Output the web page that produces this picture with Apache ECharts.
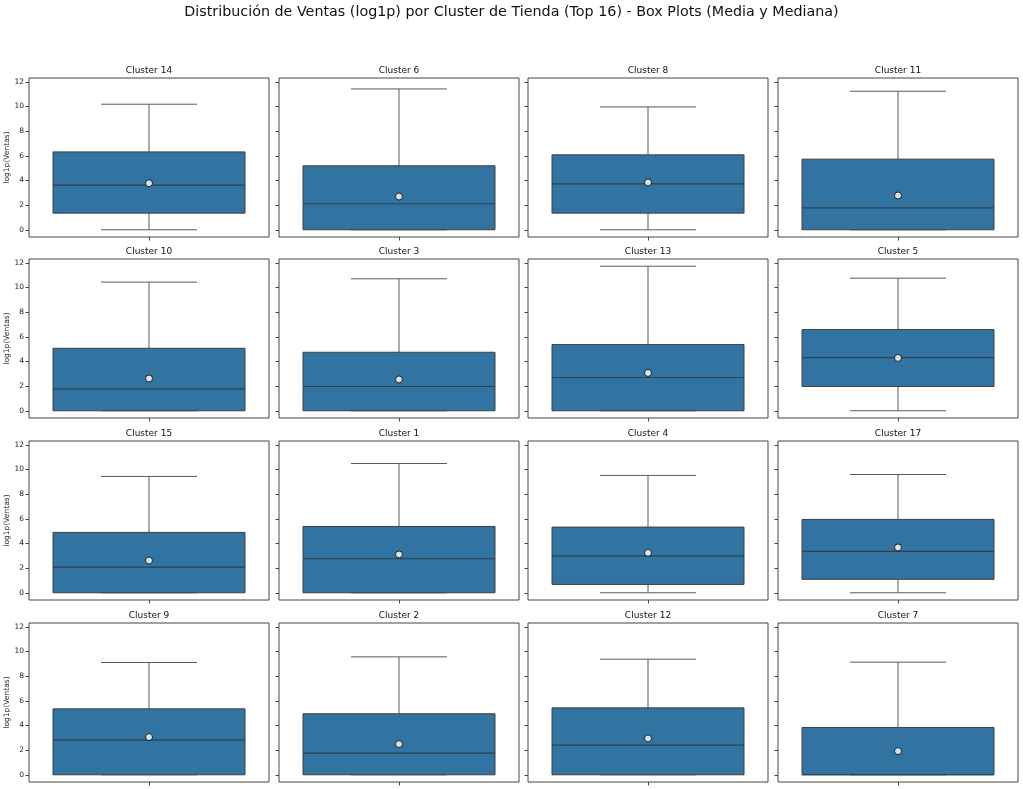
<!DOCTYPE html>
<html>
<head>
<meta charset="utf-8">
<script src="https://cdn.jsdelivr.net/npm/echarts@6/dist/echarts.min.js"></script>
<style>
html,body{margin:0;padding:0;background:#fff;}
#c{width:1023px;height:789px;}
</style>
</head>
<body>
<div id="c"></div>
<script>
// ---- data ----
const clusters = ['Cluster 14','Cluster 6','Cluster 8','Cluster 11',
                  'Cluster 10','Cluster 3','Cluster 13','Cluster 5',
                  'Cluster 15','Cluster 1','Cluster 4','Cluster 17',
                  'Cluster 9','Cluster 2','Cluster 12','Cluster 7'];
const whiskerLow  = [0,0,0,0, 0,0,0,0, 0,0,0,0, 0,0,0,0];
const q1Values    = [1.35,0,1.35,0, 0,0,0,1.97, 0,0,0.68,1.09, 0,0,0,0];
const medianValues= [3.62,2.11,3.73,1.78, 1.78,1.97,2.70,4.32, 2.08,2.76,3.00,3.36, 2.81,1.76,2.41,0];
const q3Values    = [6.32,5.19,6.08,5.73, 5.07,4.75,5.37,6.59, 4.90,5.38,5.33,5.95, 5.35,4.95,5.43,3.84];
const whiskerHigh = [10.19,11.43,9.97,11.24, 10.44,10.71,11.73,10.76, 9.44,10.49,9.52,9.60, 9.11,9.57,9.38,9.14];
const meanValues  = [3.78,2.70,3.84,2.78, 2.62,2.54,3.07,4.29, 2.62,3.11,3.24,3.68, 3.06,2.49,2.95,1.92];
const yTicks = [0,2,4,6,8,10,12];
const mainTitle = 'Distribución de Ventas (log1p) por Cluster de Tienda (Top 16) - Box Plots (Media y Mediana)';
const yName = 'log1p(Ventas)';

// ---- layout ----
const FONT = 'DejaVu Sans';
const colLeft = [29, 279, 528, 778];
const rowTop = [78, 259, 441, 623];
const W = 240, H = 159;
const dataMax = Math.max(...whiskerHigh), dataMin = Math.min(...whiskerLow);
const pad = (dataMax - dataMin) * 0.05;
const yMin = dataMin - pad, yMax = dataMax + pad;

const grids = [], xAxes = [], yAxes = [], series = [], graphics = [];
graphics.push({type:'text', left:'center', top:5, style:{text:mainTitle, font:'14.3px "'+FONT+'"', fill:'#111'}});

clusters.forEach((name, i) => {
  const r = Math.floor(i/4), c = i % 4;
  grids.push({left:colLeft[c], top:rowTop[r], width:W, height:H, show:true, borderColor:'#444', borderWidth:1, backgroundColor:'transparent', containLabel:false});
  xAxes.push({gridIndex:i, type:'value', min:-0.5, max:0.5, position:'bottom',
    axisLine:{show:false, onZero:false}, splitLine:{show:false},
    axisTick:{show:true, length:3.5, lineStyle:{color:'#444', width:1}, customValues:[0]},
    axisLabel:{show:false}});
  yAxes.push({gridIndex:i, type:'value', min:yMin, max:yMax, position:'left',
    axisLine:{show:false, onZero:false}, splitLine:{show:false},
    axisTick:{show:true, length:3.5, lineStyle:{color:'#444', width:1}, customValues:yTicks},
    axisLabel:{show:c===0, customValues:yTicks, fontFamily:FONT, fontSize:7.5, color:'#222', margin:5},
    name: c===0 ? yName : '', nameLocation:'middle', nameRotate:90, nameGap:17,
    nameTextStyle:{fontFamily:FONT, fontSize:7.5, color:'#222'}});
  graphics.push({type:'text', x:colLeft[c]+W/2, y:rowTop[r]-7,
    style:{text:name, font:'9px "'+FONT+'"', fill:'#111', textAlign:'center', textVerticalAlign:'middle'}});
  series.push({type:'custom', xAxisIndex:i, yAxisIndex:i, silent:true,
    data:[[0, whiskerLow[i], q1Values[i], medianValues[i], q3Values[i], whiskerHigh[i]]],
    renderItem:function(params, api){
      const x = api.value(0);
      const pLo = api.coord([x, api.value(1)]);
      const pQ1 = api.coord([x, api.value(2)]);
      const pMed = api.coord([x, api.value(3)]);
      const pQ3 = api.coord([x, api.value(4)]);
      const pHi = api.coord([x, api.value(5)]);
      const bw = api.size([0.8, 0])[0];
      const cw = api.size([0.4, 0])[0];
      const cx = pQ1[0];
      const lineC = '#3f3f3f', whC = '#5a5a5a';
      return {type:'group', children:[
        {type:'line', shape:{x1:cx, y1:pQ3[1], x2:cx, y2:pHi[1]}, style:{stroke:whC, lineWidth:1}},
        {type:'line', shape:{x1:cx, y1:pQ1[1], x2:cx, y2:pLo[1]}, style:{stroke:whC, lineWidth:1}},
        {type:'line', shape:{x1:cx-cw/2, y1:pHi[1], x2:cx+cw/2, y2:pHi[1]}, style:{stroke:whC, lineWidth:1}},
        {type:'line', shape:{x1:cx-cw/2, y1:pLo[1], x2:cx+cw/2, y2:pLo[1]}, style:{stroke:whC, lineWidth:1}},
        {type:'rect', shape:{x:cx-bw/2, y:pQ3[1], width:bw, height:pQ1[1]-pQ3[1]}, style:{fill:'#3274a1', stroke:lineC, lineWidth:1}},
        {type:'line', shape:{x1:cx-bw/2, y1:pMed[1], x2:cx+bw/2, y2:pMed[1]}, style:{stroke:'#2f3f4f', lineWidth:1.2}}
      ]};
    }});
  series.push({type:'scatter', xAxisIndex:i, yAxisIndex:i, silent:true,
    data:[[0, meanValues[i]]], symbol:'circle', symbolSize:7,
    itemStyle:{color:'#ffffff', borderColor:'#000', borderWidth:1}, z:5});
});

const chart = echarts.init(document.getElementById('c'), null, {renderer:'canvas'});
chart.setOption({animation:false, backgroundColor:'#fff', grid:grids, xAxis:xAxes, yAxis:yAxes, series:series, graphic:graphics});
</script>
</body>
</html>
